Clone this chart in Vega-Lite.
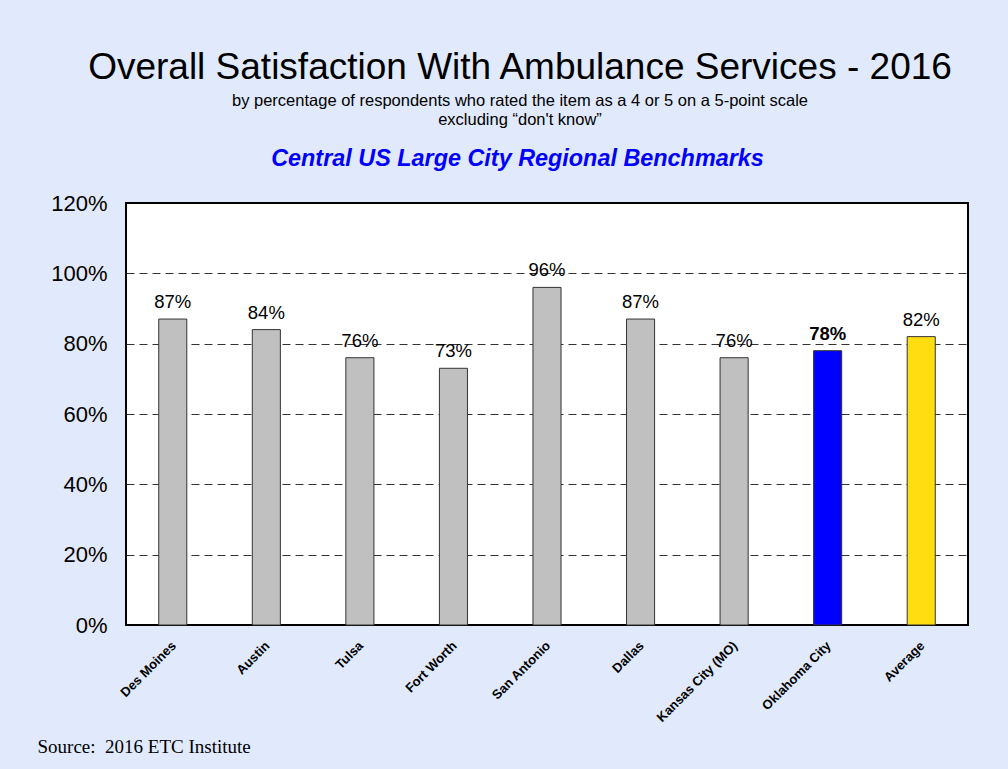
{
  "$schema": "https://vega.github.io/schema/vega-lite/v6.json",
  "width": 842,
  "height": 422,
  "autosize": {"type": "none"},
  "padding": {"left": 126, "top": 203, "right": 40, "bottom": 144},
  "background": "#e0eafc",
  "title": {
    "text": "Overall Satisfaction With Ambulance Services - 2016",
    "subtitle": ["by percentage of respondents who rated the item as a 4 or 5 on a 5-point scale", "excluding \u201cdon't know\u201d"],
    "anchor": "middle",
    "font": "Liberation Sans",
    "fontSize": 37,
    "fontWeight": "normal",
    "color": "black",
    "subtitleFont": "Liberation Sans",
    "subtitleFontSize": 16.5,
    "subtitleColor": "black",
    "subtitleLineHeight": 19,
    "subtitlePadding": 6,
    "dx": -27,
    "offset": 17
  },
  "data": {
    "values": [
      {"city": "Des Moines", "value": 0.87, "group": "other"},
      {"city": "Austin", "value": 0.84, "group": "other"},
      {"city": "Tulsa", "value": 0.76, "group": "other"},
      {"city": "Fort Worth", "value": 0.73, "group": "other"},
      {"city": "San Antonio", "value": 0.96, "group": "other"},
      {"city": "Dallas", "value": 0.87, "group": "other"},
      {"city": "Kansas City (MO)", "value": 0.76, "group": "other"},
      {"city": "Oklahoma City", "value": 0.78, "group": "focus"},
      {"city": "Average", "value": 0.82, "group": "avg"}
    ]
  },
  "encoding": {
    "y": {
      "field": "value",
      "type": "quantitative",
      "scale": {"domain": [0, 1.2], "nice": false},
      "axis": {
        "values": [0, 0.2, 0.4, 0.6, 0.8, 1.0, 1.2],
        "format": ".0%",
        "domain": false,
        "ticks": false,
        "labelFont": "Liberation Sans",
        "labelFontSize": 22,
        "labelColor": "black",
        "labelPadding": 19,
        "title": null,
        "grid": true,
        "gridColor": "#333333",
        "gridDash": [8, 5],
        "gridWidth": 1,
        "gridOpacity": {"condition": {"test": "datum.value < 0.01 || datum.value > 1.19", "value": 0}, "value": 1}
      }
    }
  },
  "layer": [
    {
      "mark": {"type": "bar", "stroke": "#333333", "strokeWidth": 1},
      "encoding": {
        "x": {
          "field": "city",
          "type": "nominal",
          "sort": null,
          "scale": {"paddingInner": 0.7, "paddingOuter": 0.35},
          "axis": {
            "orient": "bottom",
            "domain": false,
            "ticks": false,
            "labelAngle": -45,
            "labelAlign": "right",
            "labelBaseline": "top",
            "labelPadding": 14,
            "labelOffset": -3,
            "labelFont": "Liberation Sans",
            "labelFontSize": 13,
            "labelFontWeight": "bold",
            "labelColor": "black",
            "title": "Source:\u00a0 2016 ETC Institute",
            "titleFont": "Liberation Serif",
            "titleFontSize": 19,
            "titleFontWeight": "normal",
            "titleColor": "black",
            "titleAnchor": "start",
            "titleAlign": "left",
            "titleBaseline": "alphabetic",
            "titleX": -89,
            "titleY": 127
          }
        },
        "color": {
          "field": "group",
          "type": "nominal",
          "scale": {"domain": ["other", "focus", "avg"], "range": ["#c0c0c0", "#0000ff", "#ffdd11"]},
          "legend": null
        }
      }
    },
    {
      "transform": [{"filter": "datum.group != 'focus'"}],
      "mark": {"type": "text", "font": "Liberation Sans", "fontSize": 18.5, "color": "black", "baseline": "alphabetic", "dy": -11},
      "encoding": {
        "x": {
          "field": "city",
          "type": "nominal",
          "sort": null,
          "scale": {"paddingInner": 0.7, "paddingOuter": 0.35},
          "axis": {
            "orient": "top",
            "domain": false,
            "ticks": false,
            "labels": false,
            "title": "Central US Large City Regional Benchmarks",
            "titleFont": "Liberation Sans",
            "titleFontSize": 23.4,
            "titleFontWeight": "bold",
            "titleFontStyle": "italic",
            "titleColor": "#0000ff",
            "titleAnchor": "start",
            "titleAlign": "center",
            "titleBaseline": "alphabetic",
            "titleX": 391,
            "titleY": -38
          }
        },
        "text": {"field": "value", "type": "quantitative", "format": ".0%"}
      }
    },
    {
      "transform": [{"filter": "datum.group == 'focus'"}],
      "mark": {"type": "text", "font": "Liberation Sans", "fontSize": 18.5, "fontWeight": "bold", "color": "black", "baseline": "alphabetic", "dy": -11},
      "encoding": {
        "x": {"field": "city", "type": "nominal", "sort": null, "axis": null},
        "text": {"field": "value", "type": "quantitative", "format": ".0%"}
      }
    }
  ],
  "resolve": {"axis": {"x": "independent"}},
  "config": {
    "view": {"fill": "white", "stroke": "black", "strokeWidth": 2}
  }
}
